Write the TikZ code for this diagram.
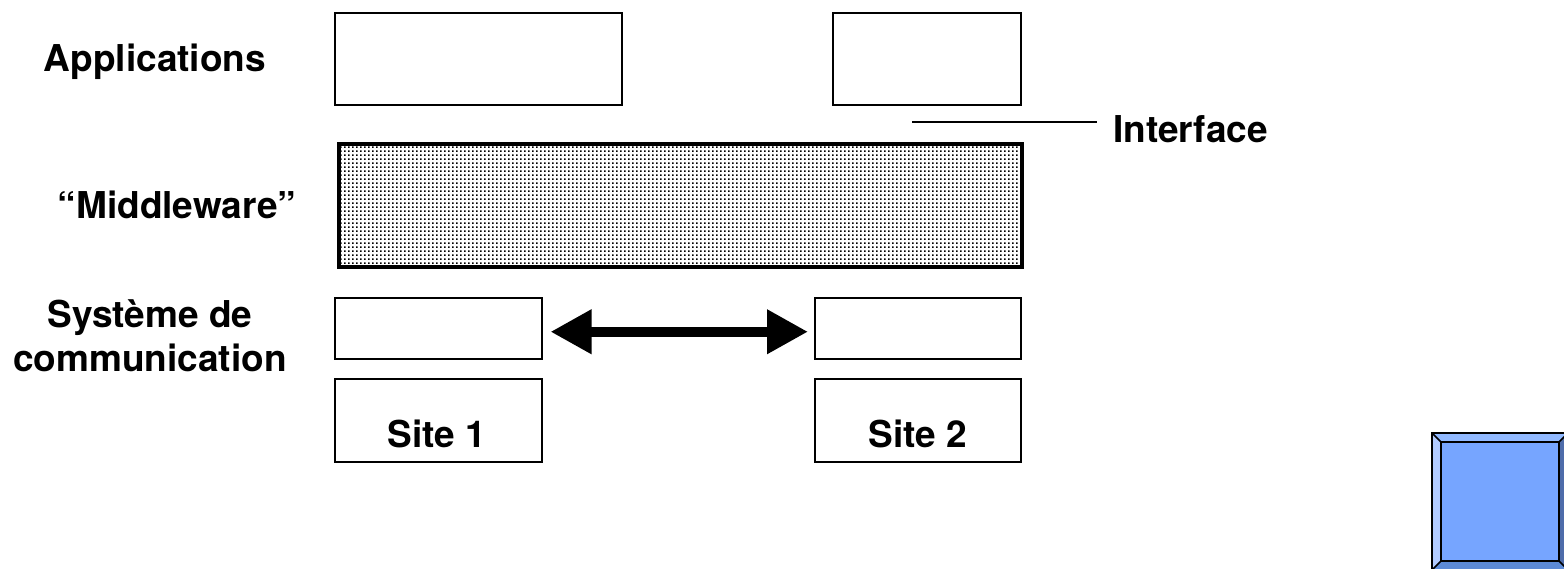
\documentclass[tikz,border=0pt]{standalone}
\usepackage{fontspec}
\setmainfont{TeX Gyre Heros}
\usetikzlibrary{arrows.meta,patterns}
\pgfdeclarepatternformonly{middots}{\pgfpointorigin}{\pgfpoint{4pt}{4pt}}{\pgfpoint{4pt}{4pt}}{%
  \pgfpathrectangle{\pgfpoint{0pt}{0pt}}{\pgfpoint{2pt}{2pt}}\pgfusepath{fill}}
\definecolor{btnface}{RGB}{118,165,255}
\definecolor{btntop}{RGB}{145,185,255}
\definecolor{btnleft}{RGB}{178,203,255}
\definecolor{btnright}{RGB}{78,108,170}
\definecolor{btnbot}{RGB}{92,138,214}
\tikzset{
  lbl/.style={font=\fontsize{37}{44}\selectfont\bfseries, align=center, inner sep=0pt},
  boxx/.style={draw=black, line width=1.5pt, inner sep=0pt, anchor=north west},
}
\begin{document}
\begin{tikzpicture}[x=1pt,y=-1pt]
\useasboundingbox (0,0) rectangle (1564,568);
% application boxes
\node[boxx, minimum width=287pt, minimum height=92pt] (app1) at (334,12) {};
\node[boxx, minimum width=188pt, minimum height=92pt] (app2) at (832,12) {};
% middleware
\node[draw=black, line width=4pt, pattern=middots, anchor=north west, inner sep=0pt,
      minimum width=683pt, minimum height=123pt] (mid) at (337,142) {};
% communication boxes
\node[boxx, minimum width=207pt, minimum height=61pt] (com1) at (334,297) {};
\node[boxx, minimum width=206pt, minimum height=61pt] (com2) at (814,297) {};
% sites
\node[boxx, minimum width=207pt, minimum height=83pt] (site1) at (334,378) {};
\node[boxx, minimum width=206pt, minimum height=83pt] (site2) at (814,378) {};
\node[lbl] (s1t) at (437,434) {Site 1};
\node[lbl] (s2t) at (918,434) {Site 2};
% arrow
\draw[line width=10pt, {Triangle[length=41pt,width=42pt]}-{Triangle[length=41pt,width=42pt]},
      shorten <=8pt, shorten >=6pt]
  ([yshift=-3.5pt]com1.east) -- ([yshift=-3.5pt]com2.west);
% labels
\node[lbl] (lapp) at (155,62) {Applications};
\node[lbl] (lmid) at (177,205) {“Middleware”};
\node[lbl] (lcom) at (150,336) {Système de\\communication};
% interface
\node[lbl, anchor=west] (liface) at (1113,129) {Interface};
\coordinate (ifl) at (912,122);
\draw[line width=1.8pt] (ifl) -- ([xshift=-16pt]liface.west |- ifl);
% button
\fill[btntop] (1432,433) -- (1568,433) -- (1559,442) -- (1441,442) -- cycle;
\fill[btnleft] (1432,433) -- (1441,442) -- (1441,561) -- (1432,570) -- cycle;
\fill[btnright] (1568,433) -- (1559,442) -- (1559,561) -- (1568,570) -- cycle;
\fill[btnbot] (1432,570) -- (1441,561) -- (1559,561) -- (1568,570) -- cycle;
\fill[btnface] (1441,442) rectangle (1559,561);
\draw[line width=2pt] (1432,433) rectangle (1568,570);
\draw[line width=2pt] (1441,442) rectangle (1559,561);
\draw[line width=1.5pt] (1432,433) -- (1441,442) (1568,433) -- (1559,442)
  (1432,570) -- (1441,561) (1568,570) -- (1559,561);
\end{tikzpicture}
\end{document}
